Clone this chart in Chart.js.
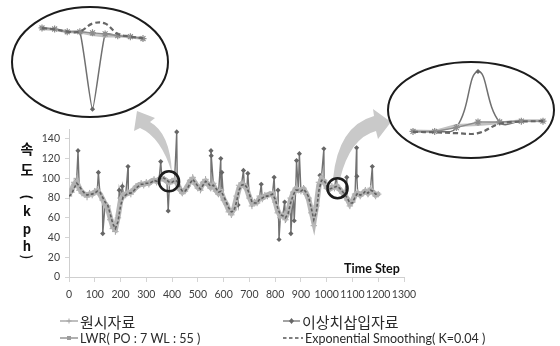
<!DOCTYPE html>
<html>
<head>
<meta charset="utf-8">
<script src="https://cdn.jsdelivr.net/npm/chart.js@4.4.1/dist/chart.umd.min.js"></script>
<style>
  html, body { margin: 0; padding: 0; background: #fff; }
  #wrap { position: relative; width: 560px; height: 346px; overflow: hidden; }
  #main { position: absolute; left: 0; top: 0; }
  #insetL { position: absolute; left: 12px; top: 7px; }
  #insetR { position: absolute; left: 388px; top: 62px; }
</style>
</head>
<body>
<div id="wrap">
  <canvas id="main" width="560" height="346"></canvas>
  <canvas id="insetL" width="156" height="110"></canvas>
  <canvas id="insetR" width="167" height="96"></canvas>
</div>
<script>
// ---- speed record (kph), sampled every 10 time steps ----
const timeSteps = [0,10,20,30,40,50,60,70,80,90,100,110,120,130,140,150,160,170,180,190,
  200,210,220,230,240,250,260,270,280,290,300,310,320,330,340,350,360,370,380,390,
  400,410,420,430,440,450,460,470,480,490,500,510,520,530,540,550,560,570,580,590,
  600,610,620,630,640,650,660,670,680,690,700,710,720,730,740,750,760,770,780,790,
  800,810,820,830,840,850,860,870,880,890,900,910,920,930,940,950,960,970,980,990,
  1000,1010,1020,1030,1040,1050,1060,1070,1080,1090,1100,1110,1120,1130,1140,1150,1160,1170,1180,1190,1200];

const rawSpeed = [82,86,96,100,88,85,84,81,85,83,
  87,89,84,78,73,72,58,49,46,60,
  80,85,83,86,84,89,92,93,95,93,
  96,94,97,99,96,100,102,99,97,95,
  97,100,96,88,85,87,92,98,101,94,
  90,88,96,99,93,90,95,87,84,88,
  78,74,66,63,68,82,93,95,94,90,
  80,72,76,75,82,79,83,82,84,85,
  76,65,60,63,58,66,80,86,90,88,
  87,90,84,80,65,52,72,96,102,98,
  90,88,92,90,93,88,85,83,78,72,
  76,84,86,82,85,88,84,90,86,82,
  84];

const lwrSpeed = [84,88,94,96,90,86,84,83,84,84,
  86,87,84,79,74,70,60,51,49,61,
  77,83,84,85,86,88,91,93,94,94,
  95,95,97,98,97,99,100,99,97,96,
  97,98,95,89,86,88,92,97,99,95,
  91,90,95,97,94,91,93,88,85,86,
  79,74,68,65,69,80,90,94,93,89,
  81,75,75,76,80,80,82,83,84,84,
  77,67,62,62,60,66,78,85,89,88,
  88,89,85,79,67,56,72,93,99,97,
  91,89,91,91,92,89,86,83,79,74,
  77,83,85,83,85,87,85,88,86,83,
  84];

const esSpeed = [82,84,90,95,92,88,85,83,84,84,
  85,87,86,81,76,73,64,54,49,56,
  72,81,83,85,85,87,90,92,94,94,
  95,95,96,98,97,99,101,100,98,96,
  96,98,97,91,87,87,90,95,99,96,
  92,89,93,97,95,92,93,90,86,87,
  82,76,70,66,67,76,88,93,94,91,
  84,76,75,75,79,80,82,82,83,84,
  79,70,63,62,60,64,75,83,88,88,
  87,89,86,81,70,58,66,88,98,98,
  93,89,90,91,92,90,87,84,80,75,
  75,81,85,83,84,87,85,88,87,84,
  84];

// inserted outliers: time step and speed
const outlierSteps  = [35,114,131,195,207,229,356,385,418,551,552,589,593,656,677,694,746,796,811,815,837,861,874,883,894,974,989,1038,1078,1116,1117,1177];
const outlierSpeeds = [128,106,44,88,92,112,117,67,147,128,123,120,106,73,108,105,94,101,88,38,76,44,57,118,125,103,130,103,101,131,102,112];

// axis ticks
const xTicks = [0,100,200,300,400,500,600,700,800,900,1000,1100,1200,1300];
const yTicks = [0,20,40,60,80,100,120,140];

// magnified neighbourhoods of two outliers
const zoomLSteps   = [381,382,383,384,385,386,387,388,389];
const zoomLRaw     = [98.5,98.1,97.0,97.0,96.6,96.2,95.5,95.1,94.4];
const zoomLOutlier = [98.5,98.1,97.0,97.0,67.0,96.2,95.5,95.1,94.4];
const zoomLLwr     = [98.2,97.9,97.0,96.9,96.0,95.4,95.5,95.0,94.4];
const zoomLEs      = [98.4,98.0,97.1,97.1,100.2,100.2,96.2,95.2,94.5];

const zoomRSteps   = [1032,1034,1036,1038,1040,1042,1044];
const zoomRRaw     = [90.0,90.0,90.9,92.2,92.2,92.4,92.4];
const zoomROutlier = [90.0,90.0,90.9,104.0,92.2,92.4,92.4];
const zoomRLwr     = [90.1,90.0,91.4,91.6,92.0,92.5,92.5];
const zoomREs      = [89.9,89.8,89.6,89.6,91.8,92.3,92.4];

// spots circled on the main plot (step, speed)
const zoomSpots = [{ step: 388, speed: 97 }, { step: 1042, speed: 90 }];

const labels = ['원시자료', '이상치삽입자료', 'LWR( PO : 7 WL : 55 )', 'Exponential Smoothing( K=0.04 )'];

const C_RAW = '#8e8e8e', C_OUT = '#727272', C_LWR = '#b8b8b8', C_ES = '#5f5f5f';
const TICK_FONT = '"Lato", "Liberation Sans", sans-serif';

function pts(xs, ys) { return xs.map((x, i) => ({ x: x, y: ys[i] })); }

const rawPts = pts(timeSteps, rawSpeed);
const outPts = rawPts.concat(outlierSteps.map((s, i) => ({ x: s, y: outlierSpeeds[i], outlier: true })))
  .sort((a, b) => a.x - b.x);

const decor = {
  id: 'decor',
  afterDraw(chart) {
    const ctx = chart.ctx;
    const xs = chart.scales.x, ys = chart.scales.y;
    ctx.save();

    // curved call-out arrows
    ctx.fillStyle = '#c9c9c9';
    ctx.beginPath();
    ctx.moveTo(172, 173);
    ctx.quadraticCurveTo(170, 133, 150, 122);
    ctx.lineTo(155, 118);
    ctx.lineTo(137, 111);
    ctx.lineTo(134, 131);
    ctx.lineTo(140, 128);
    ctx.quadraticCurveTo(161, 137, 172, 173);
    ctx.closePath();
    ctx.fill();

    ctx.beginPath();
    ctx.moveTo(333, 179);
    ctx.quadraticCurveTo(338, 126, 374, 116);
    ctx.lineTo(373, 109);
    ctx.lineTo(391, 122);
    ctx.lineTo(378, 139);
    ctx.lineTo(376, 131);
    ctx.quadraticCurveTo(350, 138, 340, 179);
    ctx.closePath();
    ctx.fill();

    // circled spots
    ctx.strokeStyle = '#1c1c1c';
    ctx.lineWidth = 2.6;
    zoomSpots.forEach(p => {
      ctx.beginPath();
      ctx.arc(xs.getPixelForValue(p.step), ys.getPixelForValue(p.speed), 10, 0, Math.PI * 2);
      ctx.stroke();
    });

    // magnifier ellipses
    ctx.lineWidth = 2;
    ctx.beginPath(); ctx.ellipse(90, 62, 78, 55, 0, 0, Math.PI * 2); ctx.stroke();
    ctx.beginPath(); ctx.ellipse(471, 110, 83, 48, 0, 0, Math.PI * 2); ctx.stroke();

    // vertical y-axis title
    ctx.fillStyle = '#111';
    ctx.textAlign = 'center';
    ctx.textBaseline = 'middle';
    ctx.font = 'bold 14px "Noto Sans CJK KR"';
    ctx.fillText('속', 27, 149);
    ctx.fillText('도', 27, 170);
    ctx.font = 'bold 13px "Noto Sans CJK KR"';
    ctx.fillText('k', 27, 211);
    ctx.fillText('p', 27, 229);
    ctx.fillText('h', 27, 246);
    [['(', 197], [')', 257]].forEach(([ch, y]) => {
      ctx.save();
      ctx.translate(27, y);
      ctx.rotate(Math.PI / 2);
      ctx.fillText(ch, 0, 0);
      ctx.restore();
    });

    // x-axis title
    ctx.font = 'bold 12.5px ' + TICK_FONT;
    ctx.fillText('Time Step', 372, 269);

    // legend
    const rows = [
      { x: 60, y: 322, w: 18, i: 0 }, { x: 283, y: 322, w: 17, i: 1 },
      { x: 60, y: 339, w: 18, i: 2 }, { x: 283, y: 339, w: 20, i: 3 }
    ];
    rows.forEach(r => {
      const cy = r.y - 1, mid = r.x + r.w / 2;
      ctx.save();
      if (r.i === 0) {
        ctx.strokeStyle = '#a4a4a4'; ctx.lineWidth = 1.4;
        ctx.beginPath(); ctx.moveTo(r.x, cy); ctx.lineTo(r.x + r.w, cy); ctx.stroke();
        ctx.lineWidth = 1;
        ctx.beginPath(); ctx.moveTo(mid - 2.5, cy); ctx.lineTo(mid + 2.5, cy);
        ctx.moveTo(mid, cy - 2.5); ctx.lineTo(mid, cy + 2.5); ctx.stroke();
      } else if (r.i === 1) {
        ctx.strokeStyle = '#7c7c7c'; ctx.lineWidth = 1.4;
        ctx.beginPath(); ctx.moveTo(r.x, cy); ctx.lineTo(r.x + r.w, cy); ctx.stroke();
        ctx.fillStyle = '#666';
        ctx.beginPath(); ctx.moveTo(mid, cy - 3); ctx.lineTo(mid + 2.5, cy); ctx.lineTo(mid, cy + 3); ctx.lineTo(mid - 2.5, cy); ctx.closePath(); ctx.fill();
      } else if (r.i === 2) {
        ctx.strokeStyle = '#b0b0b0'; ctx.lineWidth = 2;
        ctx.beginPath(); ctx.moveTo(r.x, cy); ctx.lineTo(r.x + r.w, cy); ctx.stroke();
        ctx.fillStyle = '#9c9c9c';
        ctx.fillRect(mid - 2, cy - 2, 4, 4);
      } else {
        ctx.strokeStyle = '#555'; ctx.lineWidth = 1.5; ctx.setLineDash([3.5, 2.5]);
        ctx.beginPath(); ctx.moveTo(r.x, cy); ctx.lineTo(r.x + r.w, cy); ctx.stroke();
      }
      ctx.restore();
      ctx.fillStyle = '#2a2a2a';
      ctx.textAlign = 'left';
      ctx.textBaseline = 'middle';
      ctx.font = (r.i < 2) ? '15px "Noto Sans CJK KR"' : '12.5px ' + TICK_FONT;
      ctx.fillText(chart.data.datasets.find(d => d.legendIndex === r.i).label, r.x + r.w + 2, r.y);
    });
    ctx.restore();
  }
};

new Chart(document.getElementById('main'), {
  type: 'line',
  data: {
    datasets: [
      { label: labels[3], legendIndex: 3, order: 0, data: pts(timeSteps, esSpeed),
        borderColor: C_ES, borderWidth: 1.6, borderDash: [3, 2], pointRadius: 0, tension: 0 },
      { label: labels[2], legendIndex: 2, order: 1, data: pts(timeSteps, lwrSpeed),
        borderColor: C_LWR, borderWidth: 5.5, pointStyle: 'rect', pointRadius: 2.8,
        pointBackgroundColor: '#b0b0b0', pointBorderWidth: 0, tension: 0 },
      { label: labels[0], legendIndex: 0, order: 2, data: rawPts,
        borderColor: C_RAW, borderWidth: 1, pointStyle: 'cross', pointRadius: 3.2,
        pointBorderColor: '#a6a6a6', pointBorderWidth: 1, tension: 0 },
      { label: labels[1], legendIndex: 1, order: 3, data: outPts,
        borderColor: C_OUT, borderWidth: 1.4, pointStyle: 'rectRot',
        pointRadius: c => (c.raw && c.raw.outlier) ? 2.6 : 0,
        pointBackgroundColor: '#666', pointBorderColor: '#666', pointBorderWidth: 0, tension: 0 }
    ]
  },
  options: {
    responsive: false,
    animation: false,
    layout: { padding: { left: 0, top: 129, right: 156, bottom: 0 } },
    plugins: { legend: { display: false }, tooltip: { enabled: false } },
    scales: {
      x: {
        type: 'linear', min: 0, max: 1300,
        afterBuildTicks: s => { s.ticks = xTicks.map(v => ({ value: v })); },
        afterFit: s => { s.height = 69; },
        ticks: { autoSkip: false, maxRotation: 0, padding: 6, color: '#404040',
                 font: { family: TICK_FONT, size: 10.5 }, callback: v => String(v) },
        grid: { drawOnChartArea: false, tickLength: 5, color: '#d4d4d4' },
        border: { color: '#cfcfcf' }
      },
      y: {
        min: 0, max: 150,
        afterBuildTicks: s => { s.ticks = yTicks.map(v => ({ value: v })); },
        afterFit: s => { s.width = 69; },
        ticks: { padding: 5, color: '#404040', font: { family: TICK_FONT, size: 10.5 },
                 callback: v => String(v) },
        grid: { drawOnChartArea: false, tickLength: 4, color: '#d4d4d4' },
        border: { color: '#cfcfcf' }
      }
    }
  },
  plugins: [decor]
});

function insetChart(id, steps, raw, outl, lwr, es, pad, yMin, yMax, peakTension) {
  new Chart(document.getElementById(id), {
    type: 'line',
    data: {
      datasets: [
        { data: pts(steps, es), order: 0, borderColor: '#666', borderWidth: 2.2, borderDash: [5, 3],
          pointRadius: 0, tension: 0.4, clip: false },
        { data: pts(steps, raw), order: 1, borderColor: '#8c8c8c', borderWidth: 1.4, pointStyle: 'star',
          pointRadius: 3.5, pointBorderColor: '#8c8c8c', pointBorderWidth: 1.2, tension: 0, clip: false },
        { data: pts(steps, lwr), order: 2, borderColor: '#c2c2c2', borderWidth: 3, pointStyle: 'rect',
          pointRadius: 2, pointBackgroundColor: '#b5b5b5', pointBorderWidth: 0, tension: 0, clip: false },
        { data: pts(steps, outl), order: 3, borderColor: '#707070', borderWidth: 1.5, pointStyle: 'rectRot',
          pointRadius: c => (outl[c.dataIndex] !== raw[c.dataIndex]) ? 2.6 : 0,
          pointBackgroundColor: '#666', pointBorderWidth: 0, tension: peakTension, clip: false }
      ]
    },
    options: {
      responsive: false,
      animation: false,
      layout: { padding: pad },
      plugins: { legend: { display: false }, tooltip: { enabled: false } },
      scales: {
        x: { type: 'linear', display: false, min: steps[0], max: steps[steps.length - 1] },
        y: { display: false, min: yMin, max: yMax }
      }
    }
  });
}

insetChart('insetL', zoomLSteps, zoomLRaw, zoomLOutlier, zoomLLwr, zoomLEs,
  { left: 30, right: 25, top: 14.5, bottom: 4.4 }, 66, 101, 0.15);
insetChart('insetR', zoomRSteps, zoomRRaw, zoomROutlier, zoomRLwr, zoomREs,
  { left: 25, right: 12, top: 1.5, bottom: 18 }, 88, 105, 0.45);
</script>
</body>
</html>
